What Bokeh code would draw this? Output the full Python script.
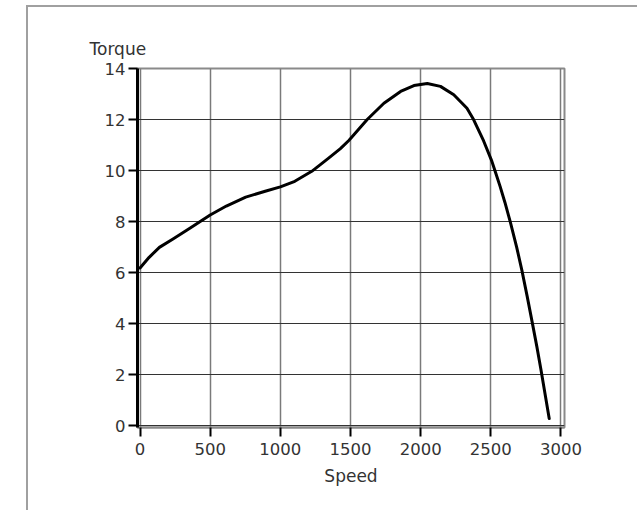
from bokeh.plotting import figure
from bokeh.models import Range1d, FixedTicker
from bokeh.embed import file_html
from bokeh.resources import INLINE

# Data
speed = [0, 65, 138, 235, 355, 500, 615, 753, 892, 1000, 1103, 1224, 1344, 1428,
         1488, 1524, 1619, 1738, 1857, 1952, 2047, 2141, 2236, 2330, 2377, 2448,
         2507, 2529, 2566, 2600, 2640, 2684, 2721, 2758, 2795, 2828, 2857, 2916]
torque = [6.18, 6.60, 6.99, 7.32, 7.74, 8.26, 8.61, 8.96, 9.19, 9.36, 9.58, 9.97,
          10.49, 10.86, 11.18, 11.40, 12.0, 12.64, 13.1, 13.33, 13.41, 13.3, 12.97,
          12.44, 12.0, 11.17, 10.37, 10.0, 9.38, 8.76, 7.96, 7.0, 6.1, 5.1, 4.05,
          3.1, 2.2, 0.28]
x_ticks = [0, 500, 1000, 1500, 2000, 2500, 3000]
y_ticks = [0, 2, 4, 6, 8, 10, 12, 14]
x_title = "Speed"
y_title = "Torque"

FONT = "DejaVu Sans"

p = figure(width=611, height=505, output_backend="svg", toolbar_location=None,
           x_range=Range1d(-18, 3025), y_range=Range1d(-0.07, 14.0),
           min_border_left=109, min_border_top=61, min_border_right=75,
           min_border_bottom=85, title=y_title)
p.margin = (5, 0, 0, 26)
p.styles = {"border-left": "2px solid #a0a0a0", "border-top": "2px solid #a0a0a0"}
p.background_fill_color = "white"
p.border_fill_color = "white"
p.outline_line_color = "#8a8a8a"
p.outline_line_width = 2

p.title.align = "left"
p.title.offset = -48
p.title.standoff = 19
p.title.text_font = FONT
p.title.text_font_size = "17px"
p.title.text_font_style = "normal"
p.title.text_color = "#333333"

p.line(speed, torque, line_color="black", line_width=3, line_join="round",
       line_cap="round")

# axes
p.xaxis.ticker = FixedTicker(ticks=x_ticks)
p.yaxis.ticker = FixedTicker(ticks=y_ticks)
p.xaxis.axis_label = x_title
for ax in (p.xaxis, p.yaxis):
    ax.major_label_text_font = FONT
    ax.major_label_text_font_size = "16.5px"
    ax.major_label_text_color = "#333333"
    ax.axis_label_text_font = FONT
    ax.axis_label_text_font_size = "17px"
    ax.axis_label_text_font_style = "normal"
    ax.axis_label_text_color = "#333333"
    ax.major_tick_in = 0
    ax.major_tick_out = 9
    ax.minor_tick_line_color = None
    ax.major_tick_line_color = "black"
    ax.major_tick_line_width = 2
p.xaxis.major_label_standoff = 6
p.yaxis.major_label_standoff = 3
p.xaxis.axis_line_color = "#8a8a8a"
p.xaxis.axis_line_width = 2
p.xaxis.axis_label_standoff = 8
p.yaxis.axis_line_color = "black"
p.yaxis.axis_line_width = 3

p.xgrid.grid_line_color = "#7a7a7a"
p.xgrid.grid_line_width = 1.5
p.ygrid.grid_line_color = "#333333"
p.ygrid.grid_line_width = 1

open("out.html", "w").write(file_html(p, INLINE))
